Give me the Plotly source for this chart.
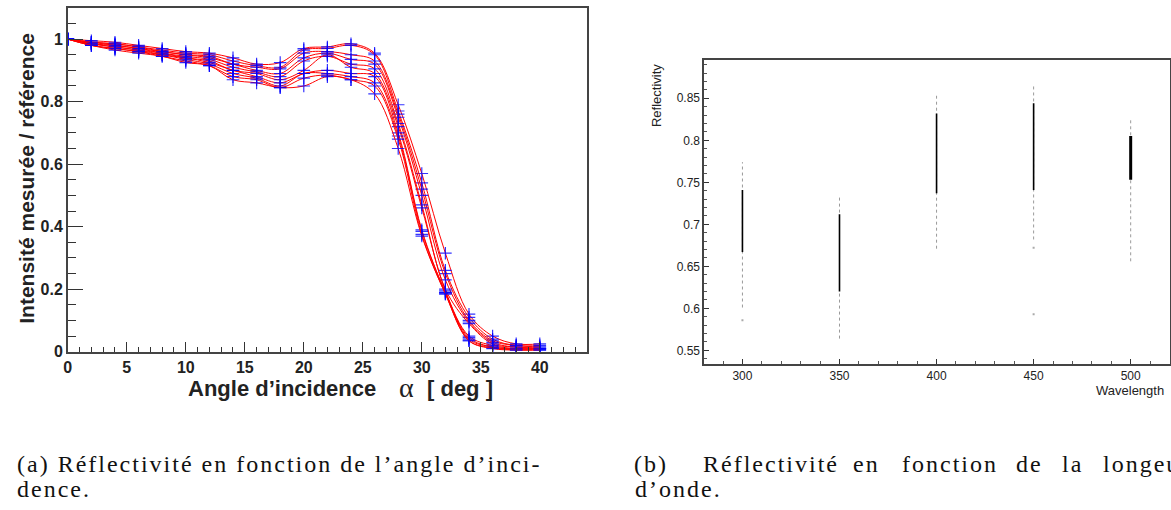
import plotly.graph_objects as go

W, H = 1171, 510

# ---------------- Panel (a) data ----------------
angles = [0, 2, 4, 6, 8, 10, 12, 14, 16, 18, 20, 22, 24, 26, 28, 30, 32, 34, 36, 38, 40]
s1 = [1, .995, .99, .98, .97, .96, .955, .94, .92, .925, .97, .975, .985, .955, .79, .57, .315, .12, .05, .025, .025]
s2 = [1, .99, .985, .975, .965, .955, .95, .93, .915, .91, .965, .97, .98, .95, .77, .54, .26, .11, .04, .02, .02]
s3 = [1, .99, .985, .975, .96, .95, .945, .92, .91, .905, .955, .96, .95, .93, .76, .52, .25, .10, .035, .02, .015]
s4 = [1, .99, .98, .97, .96, .95, .94, .92, .90, .89, .94, .955, .935, .92, .75, .50, .23, .095, .03, .015, .015]
s5 = [1, .985, .98, .97, .955, .945, .935, .91, .895, .88, .93, .945, .92, .905, .73, .47, .20, .09, .025, .015, .01]
s6 = [1, .985, .975, .965, .955, .94, .93, .90, .89, .87, .90, .95, .91, .89, .72, .46, .195, .05, .02, .01, .01]
s7 = [1, .985, .975, .965, .95, .94, .925, .90, .88, .86, .89, .90, .89, .88, .70, .39, .19, .045, .015, .01, .01]
s8 = [1, .98, .97, .96, .95, .935, .92, .89, .875, .85, .89, .89, .88, .86, .69, .385, .19, .04, .015, .008, .008]
s9 = [1, .98, .97, .96, .945, .93, .915, .88, .87, .845, .875, .885, .87, .85, .68, .375, .185, .035, .012, .006, .006]
s10 = [1, .98, .965, .955, .945, .925, .915, .87, .86, .845, .85, .88, .87, .825, .65, .37, .185, .035, .01, .005, .005]
series_a = [s1, s2, s3, s4, s5, s6, s7, s8, s9, s10]

# ---------------- Panel (b) data ----------------
wavelengths = [300, 350, 400, 450, 500]
sparse_lo = [0.601, 0.564, 0.671, 0.682, 0.656]
sparse_hi = [0.774, 0.732, 0.853, 0.867, 0.827]
core_lo = [0.667, 0.620, 0.737, 0.741, 0.753]
core_hi = [0.741, 0.712, 0.832, 0.844, 0.805]
outlier_wl = [300, 450, 450]
outlier_val = [0.586, 0.593, 0.672]

# ---------------- Layout geometry (px) ----------------
def px_x(v):
    return v / W

def px_y(v):
    return 1 - v / H

A_L, A_R, A_T, A_B = 64, 585, 8, 358
B_L, B_R, B_T, B_B = 702.6, 1169.5, 60.7, 370.7

fig = go.Figure()

for s in series_a:
    fig.add_trace(go.Scatter(
        x=angles, y=s, mode="lines+markers",
        line=dict(color="#ff0000", width=1, shape="spline", smoothing=1.0),
        marker=dict(symbol="cross-thin", size=9, color="rgba(0,0,255,0.8)",
                    line=dict(color="rgba(0,0,255,0.8)", width=1.2)),
        xaxis="x", yaxis="y", showlegend=False, hoverinfo="skip"))

# panel b: vertical streaks
def seg(lo, hi):
    xs, ys = [], []
    for w, a, b in zip(wavelengths, lo, hi):
        xs += [w, w, None]
        ys += [a, b, None]
    return xs, ys

xs, ys = seg(sparse_lo, sparse_hi)
fig.add_trace(go.Scatter(x=xs, y=ys, mode="lines", line=dict(color="#9a9a9a", width=1, dash="dot"),
                         xaxis="x2", yaxis="y2", showlegend=False, hoverinfo="skip"))
for i, w in enumerate(wavelengths):
    width = 3 if w == 500 else 1.6
    fig.add_trace(go.Scatter(x=[w, w], y=[core_lo[i], core_hi[i]], mode="lines",
                             line=dict(color="#000000", width=width),
                             xaxis="x2", yaxis="y2", showlegend=False, hoverinfo="skip"))
fig.add_trace(go.Scatter(x=outlier_wl, y=outlier_val, mode="markers",
                         marker=dict(symbol="square", size=2, color="#aaaaaa"),
                         xaxis="x2", yaxis="y2", showlegend=False, hoverinfo="skip"))

bold_tick = dict(family="Liberation Sans, Arial, sans-serif", size=16, color="#222222", weight="bold")
small_tick = dict(family="Liberation Sans, Arial, sans-serif", size=12, color="#222222")
small_title = dict(family="Liberation Sans, Arial, sans-serif", size=13, color="#222222")

fig.update_layout(
    width=W, height=H,
    margin=dict(l=0, r=0, t=0, b=0),
    paper_bgcolor="white", plot_bgcolor="white",
    xaxis=dict(domain=[px_x(A_L), px_x(A_R)], range=[0, 44], anchor="y",
               tick0=0, dtick=5, ticks="inside", ticklen=10, tickwidth=1.3, tickcolor="#333",
               minor=dict(ticks="inside", dtick=1, ticklen=5, tickwidth=1, tickcolor="#333"),
               showline=True, linecolor="#444", linewidth=1.5, mirror=True,
               showgrid=False, zeroline=False, tickfont=bold_tick),
    yaxis=dict(domain=[px_y(A_B), px_y(A_T)], range=[0, 1.1], anchor="x",
               tick0=0, dtick=0.2, ticks="inside", ticklen=15, tickwidth=1.3, tickcolor="#333",
               minor=dict(ticks="inside", dtick=0.05, ticklen=8, tickwidth=1, tickcolor="#333"),
               showline=True, linecolor="#444", linewidth=1.5, mirror=True,
               showgrid=False, zeroline=False, tickfont=bold_tick),
    xaxis2=dict(domain=[px_x(B_L), px_x(B_R)], range=[280.3, 520], anchor="y2",
                tick0=300, dtick=50, ticks="inside", ticklen=5, tickwidth=1, tickcolor="#333",
                minor=dict(ticks="inside", dtick=10, ticklen=3, tickwidth=1, tickcolor="#555"),
                showline=True, linecolor="#444", linewidth=1.5, mirror=True,
                showgrid=False, zeroline=False, tickfont=small_tick),
    yaxis2=dict(domain=[px_y(B_B), px_y(B_T)], range=[0.5336, 0.896], anchor="x2",
                tick0=0.55, dtick=0.05, ticks="inside", ticklen=5, tickwidth=1, tickcolor="#333",
                minor=dict(ticks="inside", dtick=0.01, ticklen=3, tickwidth=1, tickcolor="#555"),
                showline=True, linecolor="#444", linewidth=1.5, mirror=True,
                showgrid=False, zeroline=False, tickfont=small_tick),
)

title_font = dict(family="Liberation Sans, Arial, sans-serif", size=22, color="#222222", weight="bold")
ytitle_font = dict(family="Liberation Sans, Arial, sans-serif", size=21, color="#222222", weight="bold")
alpha_font = dict(family="Liberation Serif, serif", size=28, color="#222222")
serif = dict(family="Liberation Serif, serif", size=24, color="#111111")
LS = "letter-spacing:2px"


def cap(txt):
    return "<span style='%s'>%s</span>" % (LS, txt)


def ann(x, y, text, font, xanchor="left", angle=0):
    return dict(x=px_x(x), y=px_y(y), xref="paper", yref="paper", text=text,
                showarrow=False, xanchor=xanchor, yanchor="middle", font=font,
                textangle=angle)


annotations = [
    ann(279, 395, "Angle d’incidence", title_font, "center"),
    ann(404, 394, "α", alpha_font, "center"),
    ann(458, 395, "[ deg ]", title_font, "center"),
    ann(23, 181, "Intensité mesurée / référence", ytitle_font, "center", -90),
    ann(655, 97, "Reflectivity", small_title, "center", -90),
    ann(1166, 398, "Wavelength", small_title, "right"),
    ann(11, 472, cap("(a) Réflectivité en fonction de l’angle d’inci-"), serif),
    ann(11, 498, cap("dence."), serif),
    ann(631, 498, cap("d’onde."), serif),
]
# caption (b) is justified: words placed at their measured positions
cap_b_words = ["(b)", "Réflectivité", "en", "fonction", "de", "la", "longeur"]
cap_b_left = [634, 703, 854, 903, 1017, 1064, 1105]
for wx, wd in zip(cap_b_left, cap_b_words):
    annotations.append(ann(wx - 4, 472, cap(wd), serif))

fig.update_layout(annotations=annotations)

fig.write_html("out.html")
